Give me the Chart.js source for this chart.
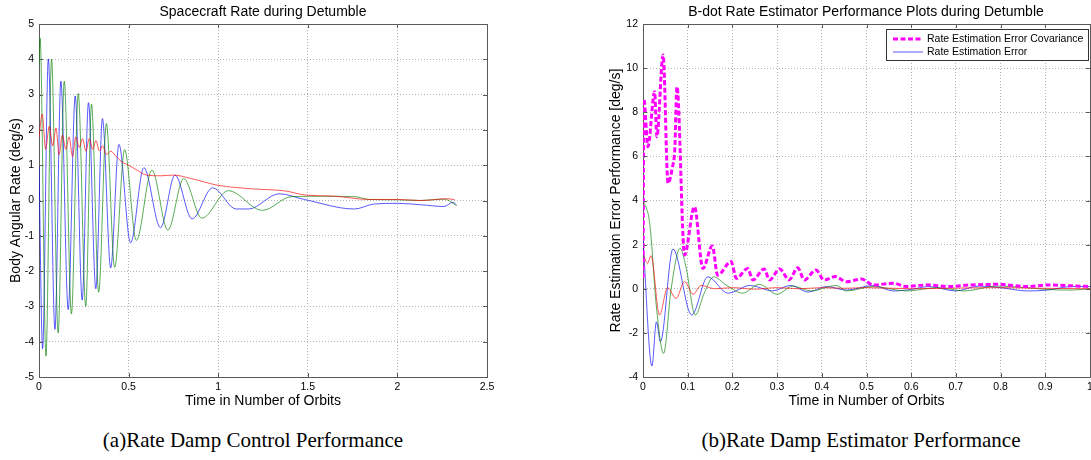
<!DOCTYPE html>
<html>
<head>
<meta charset="utf-8">
<script src="https://cdn.jsdelivr.net/npm/chart.js@4.4.0/dist/chart.umd.min.js"></script>
<style>
  html, body { margin: 0; padding: 0; background: #fff; overflow: hidden; width: 1091px; height: 460px; }
  #rateChart { position: absolute; left: 0; top: 0; }
  #estChart { position: absolute; left: 590px; top: 0; }
  .caption { position: absolute; top: 428px; font-family: 'Liberation Serif', 'Times New Roman', serif; font-size: 21px; color: #000; white-space: nowrap; transform: translateX(-50%); }
</style>
</head>
<body>
<canvas id="rateChart" width="526" height="410"></canvas>
<canvas id="estChart" width="552" height="410"></canvas>
<div class="caption" style="left:253px">(a)Rate Damp Control Performance</div>
<div class="caption" style="left:861px">(b)Rate Damp Estimator Performance</div>
<script>
// ---- left panel: body rates during detumble ----
const rateXTicks = [0, 0.5, 1, 1.5, 2, 2.5];
const rateYTicks = [-5, -4, -3, -2, -1, 0, 1, 2, 3, 4, 5];

const rateTimeRed = [0, 0.018, 0.037, 0.057, 0.076, 0.095, 0.112, 0.13, 0.15, 0.168, 0.187, 0.205, 0.225, 0.243, 0.262, 0.28, 0.3, 0.318, 0.337, 0.355, 0.375, 0.4, 0.43, 0.46, 0.5, 0.55, 0.6, 0.68, 0.75, 0.85, 1.0, 1.19, 1.375, 1.48, 1.654, 1.84, 2.0, 2.13, 2.28, 2.32];
const rateRed = [1.8, 2.45, 1.45, 2.1, 1.55, 2.05, 1.3, 1.85, 1.45, 1.8, 1.25, 1.8, 1.5, 1.75, 1.4, 1.75, 1.45, 1.7, 1.4, 1.55, 1.3, 1.4, 1.25, 1.1, 1.0, 0.85, 0.72, 0.7, 0.72, 0.62, 0.43, 0.33, 0.27, 0.16, 0.12, 0.03, 0.03, 0.0, 0.05, 0.02];

const rateTimeGreen = [0, 0.006, 0.039, 0.070, 0.107, 0.141, 0.181, 0.219, 0.261, 0.293, 0.333, 0.376, 0.422, 0.478, 0.543, 0.630, 0.719, 0.807, 0.909, 1.057, 1.246, 1.41, 1.57, 1.76, 1.84, 2.0, 2.13, 2.26, 2.33];
const rateGreen = [3.8, 4.6, -4.41, 4.0, -3.75, 3.38, -3.21, 3.03, -3.0, 2.73, -2.6, 2.18, -1.89, 1.44, -1.13, 0.86, -0.84, 0.62, -0.5, 0.28, -0.28, 0.11, 0.12, 0.11, 0.03, 0.02, 0.0, 0.04, -0.14];

const rateTimeBlue = [0, 0.020, 0.052, 0.089, 0.122, 0.163, 0.202, 0.241, 0.276, 0.317, 0.354, 0.400, 0.446, 0.511, 0.585, 0.678, 0.759, 0.854, 0.969, 1.10, 1.17, 1.34, 1.48, 1.76, 1.87, 2.0, 2.13, 2.26, 2.31, 2.33];
const rateBlue = [1.0, -4.2, 4.01, -3.65, 3.38, -3.09, 2.96, -2.82, 2.77, -2.5, 2.32, -1.91, 1.59, -1.2, 0.93, -0.77, 0.72, -0.52, 0.36, -0.24, -0.24, 0.19, 0.03, -0.24, -0.1, -0.08, -0.12, -0.17, -0.05, -0.13];

// ---- right panel: B-dot rate estimator ----
const estXTicks = [0, 0.1, 0.2, 0.3, 0.4, 0.5, 0.6, 0.7, 0.8, 0.9, 1];
const estYTicks = [-4, -2, 0, 2, 4, 6, 8, 10, 12];
const estLegend = ['Rate Estimation Error Covariance', 'Rate Estimation Error'];

const covTime = [0, 0.002, 0.011, 0.026, 0.031, 0.045, 0.056, 0.066, 0.071, 0.076, 0.093, 0.115, 0.134, 0.155, 0.167, 0.197, 0.209, 0.234, 0.246, 0.271, 0.283, 0.306, 0.327, 0.346, 0.361, 0.387, 0.405, 0.43, 0.455, 0.489, 0.515, 0.56, 0.589, 0.635, 0.686, 0.73, 0.797, 0.857, 0.905, 0.964, 1.0];
const covValues = [0.5, 8.6, 6.44, 8.93, 6.89, 10.6, 4.78, 5.53, 6.29, 9.16, 1.53, 3.72, 0.92, 1.94, 0.62, 1.23, 0.47, 0.92, 0.4, 0.9, 0.4, 0.9, 0.4, 0.95, 0.4, 0.85, 0.4, 0.55, 0.32, 0.44, 0.17, 0.25, 0.1, 0.17, 0.1, 0.17, 0.2, 0.1, 0.17, 0.13, 0.1];

const errTimeRed = [0, 0.01, 0.018, 0.037, 0.055, 0.074, 0.093, 0.112, 0.13, 0.16, 0.2, 0.25, 0.3, 0.35, 0.4, 0.45, 0.5, 0.6, 0.7, 0.8, 0.9, 1.0];
const errRed = [1.6, 1.15, 1.5, -1.19, 0.05, -0.44, 0.33, -0.25, 0.15, 0.0, 0.05, -0.02, 0.05, 0.0, 0.05, 0.02, 0.05, 0.0, 0.03, 0.05, 0.02, 0.0];

const errTimeGreen = [0, 0.015, 0.03, 0.046, 0.063, 0.083, 0.096, 0.117, 0.137, 0.158, 0.186, 0.223, 0.26, 0.3, 0.335, 0.376, 0.432, 0.455, 0.515, 0.589, 0.66, 0.72, 0.79, 0.857, 0.9, 0.96, 1.0];
const errGreen = [4.02, 2.96, -0.82, -2.93, 0.0, 1.83, 1.0, -1.19, -0.2, 0.54, 0.17, -0.2, 0.2, -0.25, 0.12, -0.1, 0.15, -0.1, 0.1, -0.1, 0.05, -0.1, 0.12, 0.05, -0.03, -0.06, 0.0];

const errTimeBlue = [0, 0.02, 0.03, 0.039, 0.067, 0.109, 0.145, 0.19, 0.24, 0.29, 0.33, 0.37, 0.41, 0.455, 0.515, 0.56, 0.6, 0.64, 0.7, 0.75, 0.8, 0.86, 0.905, 0.96, 1.0];
const errBlue = [2.2, -3.5, -1.5, -2.4, 1.8, -1.19, 0.54, -0.2, 0.15, -0.1, 0.15, -0.15, 0.1, -0.06, 0.15, -0.1, -0.03, 0.1, -0.1, 0.12, 0.05, -0.1, -0.06, 0.1, 0.1];

Chart.defaults.font.family = "'Liberation Sans', Arial, sans-serif";
Chart.defaults.color = '#000';

const axisColor = '#5a5a5a';
const gridColor = '#b4b4b4';
const red = 'rgba(255, 0, 0, 0.65)';
const green = 'rgba(0, 128, 0, 0.65)';
const blue = 'rgba(0, 0, 255, 0.65)';

function toPoints(xs, ys) {
    return xs.map((x, i) => ({ x: x, y: ys[i] }));
}

function line(label, xs, ys, color) {
    return {
        label: label,
        data: toPoints(xs, ys),
        borderColor: color,
        borderWidth: 1,
        pointRadius: 0,
        cubicInterpolationMode: 'monotone'
    };
}

// small inward tick marks on all four sides, matlab style
const boxTicks = {
    id: 'boxTicks',
    afterDatasetsDraw(chart) {
        const { ctx, chartArea: a, scales } = chart;
        ctx.save();
        ctx.strokeStyle = axisColor;
        ctx.lineWidth = 1;
        ctx.beginPath();
        scales.x.ticks.forEach(t => {
            const px = Math.round(scales.x.getPixelForValue(t.value)) + 0.5;
            ctx.moveTo(px, a.bottom); ctx.lineTo(px, a.bottom - 4);
            ctx.moveTo(px, a.top); ctx.lineTo(px, a.top + 4);
        });
        scales.y.ticks.forEach(t => {
            const py = Math.round(scales.y.getPixelForValue(t.value)) + 0.5;
            ctx.moveTo(a.left, py); ctx.lineTo(a.left + 4, py);
            ctx.moveTo(a.right, py); ctx.lineTo(a.right - 4, py);
        });
        ctx.stroke();
        ctx.restore();
    }
};

// boxed legend inside the top right corner of the plot
const boxLegend = {
    id: 'boxLegend',
    afterDraw(chart, args, opts) {
        if (!opts.items) return;
        const { ctx, chartArea: a } = chart;
        const entries = opts.items.map(name => chart.data.datasets.find(ds => ds.label === name));
        const w = 202, h = 31;
        const left = a.right - w - 2, top = a.top + 5;
        ctx.save();
        ctx.fillStyle = '#fff';
        ctx.fillRect(left, top, w, h);
        ctx.strokeStyle = '#333';
        ctx.lineWidth = 1;
        ctx.strokeRect(left + 0.5, top + 0.5, w, h);
        ctx.font = "10.5px 'Liberation Sans', Arial, sans-serif";
        ctx.textBaseline = 'middle';
        entries.forEach((ds, i) => {
            const y = top + 10 + i * 13;
            ctx.save();
            ctx.strokeStyle = ds.borderColor;
            ctx.lineWidth = ds.borderWidth;
            ctx.setLineDash(ds.borderDash || []);
            ctx.beginPath();
            ctx.moveTo(left + 7, y);
            ctx.lineTo(left + 37, y);
            ctx.stroke();
            ctx.restore();
            ctx.fillStyle = '#000';
            ctx.fillText(ds.label, left + 41, y);
        });
        ctx.restore();
    }
};

function makeScales(xr, yr, xTicks, yTicks, xTitle, yTitle, yWidth, yTitlePad, rightWidth) {
    const tickFont = { size: 10.5 };
    const fmt = v => String(+Number(v).toFixed(2));
    return {
        x: {
            type: 'linear', min: xr[0], max: xr[1],
            afterBuildTicks: s => { s.ticks = xTicks.map(v => ({ value: v })); },
            afterFit: s => { s.height = 33; },
            grid: { color: gridColor, drawTicks: false },
            border: { color: axisColor, dash: [1, 2] },
            ticks: { font: tickFont, padding: 4, maxRotation: 0, callback: fmt },
            title: { display: true, text: xTitle, font: { size: 14 }, padding: { top: 0, bottom: 0 } }
        },
        y: {
            type: 'linear', min: yr[0], max: yr[1],
            afterBuildTicks: s => { s.ticks = yTicks.map(v => ({ value: v })); },
            afterFit: s => { s.width = yWidth; },
            grid: { color: gridColor, drawTicks: false },
            border: { color: axisColor, dash: [1, 2] },
            ticks: { font: tickFont, padding: 5, callback: fmt },
            title: { display: true, text: yTitle, font: { size: 14 }, padding: { top: yTitlePad, bottom: 0 } }
        },
        // empty axes only to close the box on the top and right
        xTop: {
            type: 'linear', position: 'top', min: 0, max: 1,
            afterFit: s => { s.height = 0; },
            grid: { display: false }, ticks: { display: false },
            border: { color: axisColor }
        },
        yRight: {
            type: 'linear', position: 'right', min: 0, max: 1,
            afterFit: s => { s.width = rightWidth; },
            grid: { display: false }, ticks: { display: false },
            border: { color: axisColor }
        }
    };
}

function baseOptions(title, scales) {
    return {
        responsive: false,
        animation: false,
        layout: { padding: 0 },
        plugins: {
            legend: { display: false },
            tooltip: { enabled: false },
            title: {
                display: true, text: title, color: '#000',
                font: { size: 14, weight: 'normal' },
                padding: { top: 3.4, bottom: 3.8 }
            }
        },
        scales: scales
    };
}

// --- Spacecraft rate ---
new Chart(document.getElementById('rateChart'), {
    type: 'line',
    data: {
        datasets: [
            line('Rate X', rateTimeRed, rateRed, red),
            line('Rate Y', rateTimeGreen, rateGreen, green),
            line('Rate Z', rateTimeBlue, rateBlue, blue)
        ]
    },
    options: baseOptions('Spacecraft Rate during Detumble',
        makeScales([0, 2.5], [-5, 5], rateXTicks, rateYTicks,
            'Time in Number of Orbits', 'Body Angular Rate (deg/s)', 39, 7.6, 39)),
    plugins: [boxTicks]
});

// --- Estimator performance ---
const covSet = line(estLegend[0], covTime, covValues, '#ff00ff');
covSet.borderWidth = 3;
covSet.borderDash = [5, 2.5];

const estOptions = baseOptions('B-dot Rate Estimator Performance Plots during Detumble',
    makeScales([0, 1], [-4, 12], estXTicks, estYTicks,
        'Time in Number of Orbits', 'Rate Estimation Error Performance [deg/s]', 53, 17.6, 52));
estOptions.plugins.boxLegend = { items: estLegend };

new Chart(document.getElementById('estChart'), {
    type: 'line',
    data: {
        datasets: [
            covSet,
            line('Rate Estimation Error X', errTimeRed, errRed, red),
            line('Rate Estimation Error Y', errTimeGreen, errGreen, green),
            line(estLegend[1], errTimeBlue, errBlue, blue)
        ]
    },
    options: estOptions,
    plugins: [boxTicks, boxLegend]
});
</script>
</body>
</html>
